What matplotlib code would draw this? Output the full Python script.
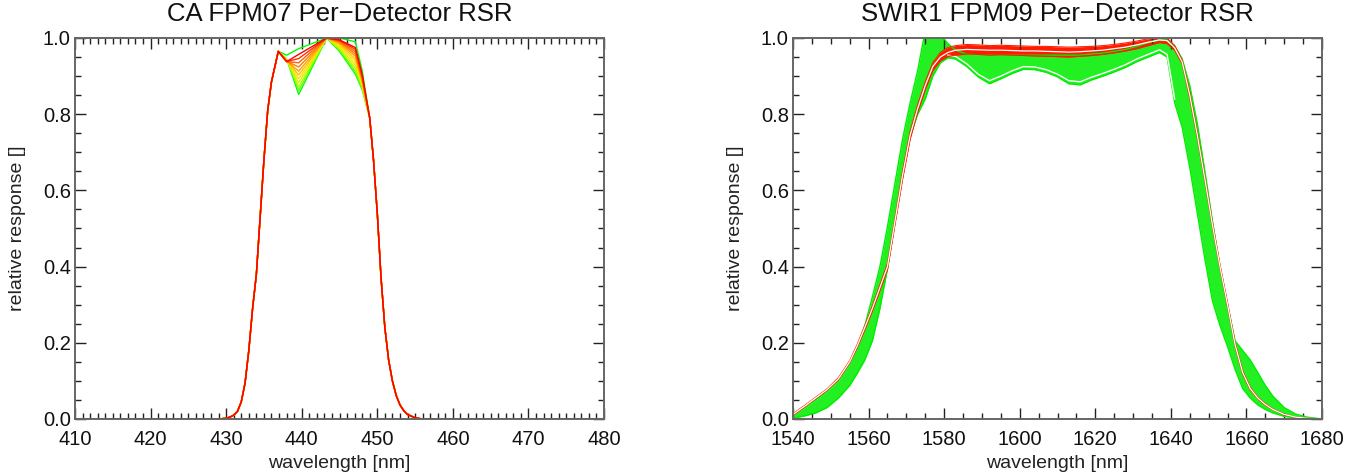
import numpy as np
import matplotlib
matplotlib.use('Agg')
import matplotlib.pyplot as plt
from matplotlib.ticker import MultipleLocator

plt.rcParams['font.family'] = ['Liberation Sans', 'DejaVu Sans']

# ---------------- CA FPM07 (per-detector) ----------------
ca_wl_left = [410, 425, 429, 430, 430.5, 431, 431.5, 432, 432.5, 433,
              433.5, 434, 434.5, 435, 435.5, 436, 436.9]
ca_left = [0.0, 0.0, 0.0, 0.002, 0.005, 0.010, 0.020, 0.045, 0.094, 0.180,
           0.290, 0.380, 0.530, 0.680, 0.810, 0.885, 0.965]
ca_wl_mid = [438.0, 439.6, 443.3, 445.0, 447.1, 448.0]
ca_wl_right = [449, 449.5, 450, 450.5, 451, 451.5, 452, 452.5, 453, 453.5,
               454, 455, 456, 465, 480]
ca_right = [0.79, 0.68, 0.54, 0.37, 0.24, 0.155, 0.10, 0.062, 0.037, 0.022,
            0.012, 0.003, 0.0, 0.0, 0.0]

# plateau values per detector (at ca_wl_mid)
ca_plateau = [
    [0.955, 0.972, 1.0, 1.000, 0.990, 0.915],
    [0.945, 0.852, 1.0, 0.965, 0.905, 0.865],
    [0.945, 0.862, 1.0, 0.968, 0.912, 0.868],
    [0.944, 0.872, 1.0, 0.972, 0.920, 0.872],
    [0.943, 0.883, 1.0, 0.976, 0.928, 0.876],
    [0.942, 0.893, 1.0, 0.980, 0.936, 0.880],
    [0.941, 0.903, 1.0, 0.984, 0.944, 0.884],
    [0.940, 0.913, 1.0, 0.987, 0.952, 0.888],
    [0.939, 0.924, 1.0, 0.990, 0.958, 0.892],
    [0.938, 0.935, 1.0, 0.992, 0.964, 0.896],
    [0.938, 0.946, 1.0, 0.994, 0.970, 0.900],
    [0.938, 0.957, 1.0, 0.995, 0.975, 0.905],
]
ca_colors = ['#00ff00', '#00ff00', '#66ff00', '#aaff00', '#ddf000', '#ffe000',
             '#ffc000', '#ffa000', '#ff8000', '#ff6000', '#ff3000', '#ff0000']

# ---------------- SWIR1 FPM09 (per-detector band) ----------------
swir_wl = [1540, 1543, 1546, 1549, 1552, 1555, 1557, 1559, 1561, 1563,
           1565, 1567, 1569, 1571, 1573, 1575, 1577, 1579, 1581, 1583,
           1586, 1589, 1592, 1595, 1598, 1601, 1604, 1607, 1610, 1613,
           1616, 1619, 1622, 1625, 1628, 1631, 1634, 1637, 1639, 1641,
           1643, 1645, 1647, 1649, 1651, 1653, 1655, 1657, 1659, 1661,
           1663, 1665, 1667, 1670, 1673, 1676, 1680]

green_hi = [0.010, 0.030, 0.050, 0.072, 0.100, 0.145, 0.190, 0.245, 0.320, 0.400,
            0.505, 0.620, 0.735, 0.830, 0.915, 1.020, 1.030, 1.010, 0.985, 0.968,
            0.958, 0.955, 0.955, 0.955, 0.955, 0.955, 0.955, 0.955, 0.955, 0.955,
            0.955, 0.958, 0.960, 0.965, 0.970, 0.978, 0.988, 0.995, 0.995, 0.980,
            0.945, 0.875, 0.775, 0.650, 0.520, 0.400, 0.300, 0.205, 0.180, 0.155,
            0.122, 0.088, 0.060, 0.030, 0.013, 0.005, 0.000]

green_lo = [0.002, 0.008, 0.016, 0.030, 0.055, 0.088, 0.120, 0.155, 0.205, 0.290,
            0.395, 0.520, 0.640, 0.745, 0.800, 0.840, 0.900, 0.935, 0.948, 0.945,
            0.925, 0.898, 0.880, 0.893, 0.907, 0.918, 0.917, 0.910, 0.898, 0.880,
            0.877, 0.890, 0.900, 0.911, 0.923, 0.938, 0.950, 0.962, 0.950, 0.830,
            0.765, 0.660, 0.540, 0.420, 0.310, 0.245, 0.190, 0.130, 0.080, 0.055,
            0.037, 0.025, 0.016, 0.007, 0.003, 0.001, 0.000]

red_hi = [0.014, 0.035, 0.057, 0.079, 0.108, 0.153, 0.196, 0.245, 0.296, 0.352,
          0.408, 0.528, 0.650, 0.755, 0.825, 0.885, 0.935, 0.962, 0.975, 0.980,
          0.983, 0.982, 0.980, 0.981, 0.980, 0.979, 0.978, 0.978, 0.977, 0.976,
          0.977, 0.978, 0.980, 0.983, 0.987, 0.992, 0.998, 1.002, 1.000, 0.980,
          0.942, 0.858, 0.752, 0.636, 0.516, 0.405, 0.305, 0.200, 0.126, 0.083,
          0.057, 0.040, 0.026, 0.013, 0.005, 0.002, 0.000]

red_lo = [0.010, 0.031, 0.053, 0.075, 0.102, 0.147, 0.188, 0.235, 0.284, 0.338,
          0.392, 0.512, 0.630, 0.735, 0.805, 0.865, 0.915, 0.940, 0.952, 0.955,
          0.958, 0.957, 0.955, 0.956, 0.955, 0.954, 0.953, 0.952, 0.951, 0.950,
          0.952, 0.954, 0.957, 0.961, 0.966, 0.972, 0.980, 0.988, 0.985, 0.968,
          0.932, 0.842, 0.738, 0.624, 0.504, 0.395, 0.295, 0.190, 0.118, 0.077,
          0.053, 0.036, 0.024, 0.011, 0.005, 0.002, 0.000]

white_red = [0.012, 0.033, 0.055, 0.077, 0.105, 0.150, 0.192, 0.240, 0.290, 0.345,
             0.400, 0.520, 0.640, 0.745, 0.815, 0.875, 0.925, 0.950, 0.962, 0.968,
             0.970, 0.969, 0.968, 0.968, 0.967, 0.966, 0.966, 0.965, 0.964, 0.963,
             0.964, 0.966, 0.968, 0.972, 0.976, 0.982, 0.989, 0.995, 0.993, 0.974,
             0.937, 0.850, 0.745, 0.630, 0.510, 0.400, 0.300, 0.195, 0.122, 0.080,
             0.055, 0.038, 0.025, 0.012, 0.005, 0.002, 0.000]

nan = float('nan')
white_low = [nan, nan, nan, nan, nan, nan, nan, nan, nan, nan,
             nan, nan, nan, nan, nan, nan, nan, nan, 0.955, 0.952,
             0.932, 0.905, 0.888, 0.900, 0.914, 0.925, 0.924, 0.917, 0.905, 0.888,
             0.885, 0.897, 0.907, 0.918, 0.930, 0.945, 0.957, 0.969, 0.957, 0.840,
             nan, nan, nan, nan, nan, nan, nan, nan, nan, nan,
             nan, nan, nan, nan, nan, nan, nan]

titles = ['CA FPM07 Per\u2212Detector RSR', 'SWIR1 FPM09 Per\u2212Detector RSR']
xlabel = 'wavelength [nm]'
ylabel = 'relative response []'

W, H = 1359, 476
fig = plt.figure(figsize=(W / 100, H / 100), dpi=100)
ax1 = fig.add_axes([75 / W, 1 - 419 / H, 529 / W, 381 / H])
ax2 = fig.add_axes([793 / W, 1 - 419 / H, 529 / W, 381 / H])

# CA panel
for row, col in zip(ca_plateau, ca_colors):
    wl = ca_wl_left + ca_wl_mid + ca_wl_right
    vals = ca_left + row + ca_right
    ax1.plot(wl, vals, color=col, lw=1.0)

# SWIR panel
ax2.fill_between(swir_wl, green_lo, green_hi, color='#22f022', lw=0)
ax2.plot(swir_wl, green_hi, color='#00ee00', lw=1.0)
ax2.plot(swir_wl, green_lo, color='#00ee00', lw=1.0)
ax2.plot(swir_wl, white_low, color='white', lw=1.0)
ax2.fill_between(swir_wl, red_lo, red_hi, color='#ff1a00', lw=0)
ax2.plot(swir_wl, red_hi, color='#ff2000', lw=0.8)
ax2.plot(swir_wl, red_lo, color='#ff2000', lw=0.8)
ax2.plot(swir_wl, white_red, color='white', lw=0.9)


def style(ax, xlim, xmaj, xmin, title):
    ax.set_xlim(*xlim)
    ax.set_ylim(0, 1)
    ax.xaxis.set_major_locator(MultipleLocator(xmaj))
    ax.xaxis.set_minor_locator(MultipleLocator(xmin))
    ax.yaxis.set_major_locator(MultipleLocator(0.2))
    ax.yaxis.set_minor_locator(MultipleLocator(0.05))
    ax.yaxis.set_major_formatter(plt.FuncFormatter(lambda v, p: f'{v:.1f}'))
    ax.tick_params(which='both', direction='in', top=True, right=True,
                   color='#222222', labelcolor='#111111', labelsize=14.5, width=1.0)
    ax.tick_params(which='major', length=8)
    ax.tick_params(which='minor', length=4)
    ax.tick_params(axis='x', pad=8)
    ax.tick_params(axis='y', pad=3)
    for s in ax.spines.values():
        s.set_color('#666666')
        s.set_linewidth(1.4)
    ax.set_xlabel(xlabel, fontsize=14, color='#222222')
    ax.set_ylabel(ylabel, fontsize=14, color='#222222')
    ax.xaxis.set_label_coords(0.5, -0.117)
    ax.xaxis.label.set_va('center')
    ax.yaxis.set_label_coords(-0.108, 0.5)
    ax.yaxis.label.set_va('center')
    ax.text(0.5, 1.062, title, transform=ax.transAxes, ha='center', va='center',
            fontsize=18.5, color='#111111')


style(ax1, (410, 480), 10, 1, titles[0])
style(ax2, (1540, 1680), 20, 5, titles[1])

fig.savefig('out.png', dpi=100)
